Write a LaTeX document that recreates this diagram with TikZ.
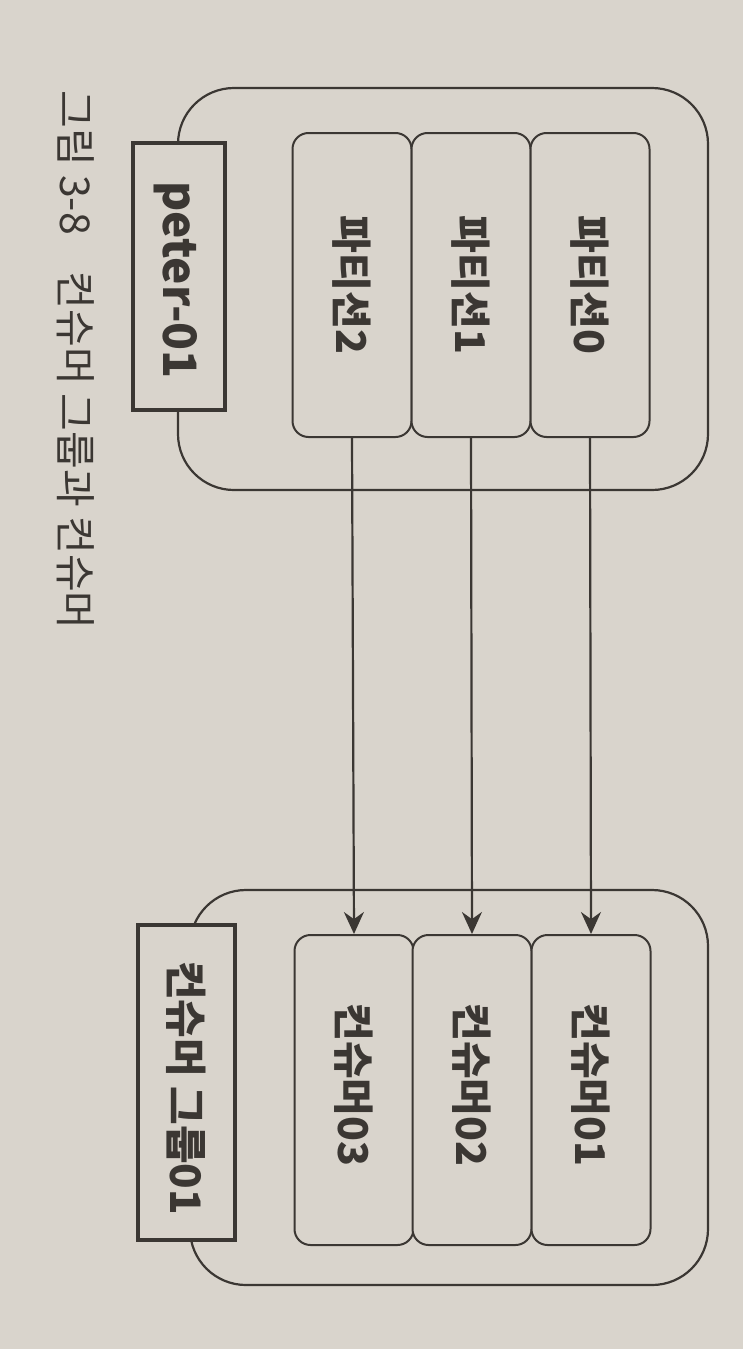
\documentclass[tikz,border=0pt]{standalone}
\usepackage{fontspec}
\setmainfont{Noto Sans CJK KR}
\usetikzlibrary{arrows.meta}
\definecolor{paper}{HTML}{D9D4CC}
\definecolor{ink}{HTML}{3B3733}
\tikzset{
  container/.style={draw=ink, line width=1.1pt, rounded corners=28pt, fill=paper},
  labelbox/.style={draw=ink, line width=2.2pt, fill=paper, text=ink},
  slot/.style={draw=ink, line width=1pt, rounded corners=8pt, fill=paper, minimum width=59.5pt},
  slottext/.style={rotate=-90, font=\fontsize{20.5}{22}\selectfont\bfseries, text=ink},
  flow/.style={draw=ink, line width=1.1pt, -{Stealth[length=11pt, width=10pt]}},
  caption/.style={font=\fontsize{20.5}{22}\selectfont, text=ink}
}
\begin{document}
\begin{tikzpicture}[x=0.5pt, y=-0.5pt]
\fill[paper] (0,0) rectangle (743,1349);
\useasboundingbox (0,0) rectangle (743,1349);
% topic container
\node[container, minimum width=265pt, minimum height=201pt] (topic) at (443,289) {};
\node[labelbox, minimum width=46pt, minimum height=133.5pt] (topiclbl) at (179,276.5) {};
\node[rotate=-90, font=\fontsize{23}{25}\selectfont\bfseries, text=ink] (topictxt) at (176,280) {peter-01};
% partitions
\node[slot, minimum height=152pt] (p2) at (352,285) {};
\node[slot, minimum height=152pt] (p1) at (471,285) {};
\node[slot, minimum height=152pt] (p0) at (590,285) {};
\node[slottext] (p2t) at (352,285) {파티션2};
\node[slottext] (p1t) at (471,285) {파티션1};
\node[slottext] (p0t) at (590,285) {파티션0};
% consumer group container
\node[container, minimum width=259pt, minimum height=197.5pt] (group) at (449,1087.5) {};
\node[labelbox, minimum width=48.5pt, minimum height=157.5pt] (grouplbl) at (186.5,1082.5) {};
\node[slottext, font=\fontsize{21}{23}\selectfont\bfseries] (grouptxt) at (186.5,1088) {컨슈머 그룹01};
% consumers
\node[slot, minimum height=155pt] (c3) at (354,1090) {};
\node[slot, minimum height=155pt] (c2) at (472,1090) {};
\node[slot, minimum height=155pt] (c1) at (591,1090) {};
\node[slottext] (c3t) at (354,1085) {컨슈머03};
\node[slottext] (c2t) at (472,1085) {컨슈머02};
\node[slottext] (c1t) at (591,1085) {컨슈머01};
% flows
\draw[flow] (p2.south) -- (c3.north);
\draw[flow] (p1.south) -- (c2.north);
\draw[flow] (p0.south) -- (c1.north);
% caption
\node[caption, rotate=-90, anchor=west, inner sep=0pt] (cap) at (76,90) {그림 3-8\hspace{0.9em}컨슈머 그룹과 컨슈머};
\end{tikzpicture}
\end{document}
